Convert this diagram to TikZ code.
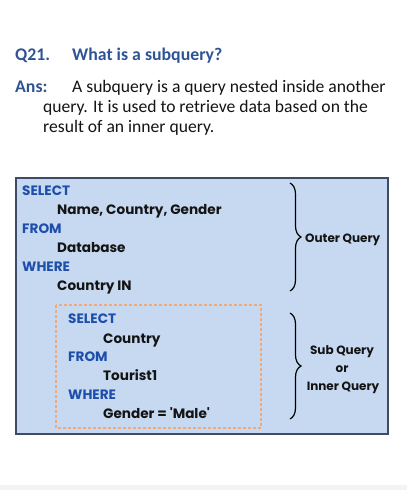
\documentclass[tikz,border=0pt]{standalone}
\usepackage{fontspec}
\setmainfont{Carlito}
\newfontfamily\popfont{Poppins}[Ligatures=TeXOff]
\usetikzlibrary{decorations.pathreplacing}
\definecolor{qblue}{RGB}{47,84,150}
\definecolor{codeblue}{RGB}{30,78,170}
\definecolor{boxfill}{RGB}{198,217,241}
\definecolor{boxline}{RGB}{63,75,100}
\definecolor{dashorange}{RGB}{240,170,120}
\definecolor{txt}{RGB}{20,20,20}
\definecolor{bandgray}{RGB}{243,243,243}
\begin{document}
\begin{tikzpicture}[x=1pt,y=-1pt,
  head/.style={anchor=base west,inner sep=0pt,font=\fontsize{17.8}{20}\selectfont\bfseries,text=qblue},
  body/.style={anchor=base west,inner sep=0pt,font=\fontsize{17.6}{20}\selectfont,text=txt},
  kw/.style={anchor=base west,inner sep=0pt,font=\popfont\fontsize{13.6}{15}\selectfont\bfseries,text=codeblue},
  val/.style={anchor=base west,inner sep=0pt,font=\popfont\fontsize{13.6}{15}\selectfont\bfseries,text=txt},
  lab/.style={anchor=base,inner sep=0pt,font=\popfont\fontsize{12}{13}\selectfont\bfseries,text=txt},
  bracestyle/.style={draw=black,line width=1.2pt,decorate,decoration={brace,amplitude=11pt,aspect=0.5}}]
\useasboundingbox (0,0) rectangle (407,490);
\fill[white] (0,0) rectangle (407,490);
\fill[bandgray] (0,485) rectangle (407,490);
% header
\node[head] (q) at (15,60) {Q21.};
\node[head] (qt) at (72,60) {What is a subquery?};
\node[head] (ans) at (15,92) {Ans:};
\node[body] (l1) at (72,92) {A subquery is a query nested inside another};
\node[body] (l2) at (43,112) {query. It is used to retrieve data based on the};
\node[body] (l3) at (43,132) {result of an inner query.};
% outer box
\draw[boxline,fill=boxfill,line width=1.3pt] (16,178) rectangle (388,434);
\node[kw] (s1) at (22,195) {SELECT};
\node[val] (v1) at (57,214.5) {Name, Country, Gender};
\node[kw] (f1) at (22,233) {FROM};
\node[val] (v2) at (57,252) {Database};
\node[kw] (w1) at (22,271) {WHERE};
\node[val] (v3) at (57,290) {Country IN};
% inner dashed box
\draw[dashorange,dashed,line width=1.1pt,dash pattern=on 3pt off 2pt] (56,305) rectangle (261,428);
\node[kw] (s2) at (68,323.5) {SELECT};
\node[val] (v4) at (103,343) {Country};
\node[kw] (f2) at (68,361.5) {FROM};
\node[val] (v5) at (103,380.5) {Tourist1};
\node[kw] (w2) at (68,399) {WHERE};
\node[val] (v6) at (103,418.5) {Gender = 'Male'};
% braces
\coordinate (b1t) at (290,183);
\coordinate (b1b) at (290,291);
\coordinate (b2t) at (290,313);
\coordinate (b2b) at (290,419);
\draw[bracestyle] (b1t) -- (b1b);
\draw[bracestyle] (b2t) -- (b2b);
\node[lab,anchor=base west] (oq) at (305,242) {Outer Query};
\node[lab] (sq) at (342,354) {Sub Query};
\node[lab] (or) at (342,372) {or};
\node[lab] (iq) at (343,390) {Inner Query};
\end{tikzpicture}
\end{document}
